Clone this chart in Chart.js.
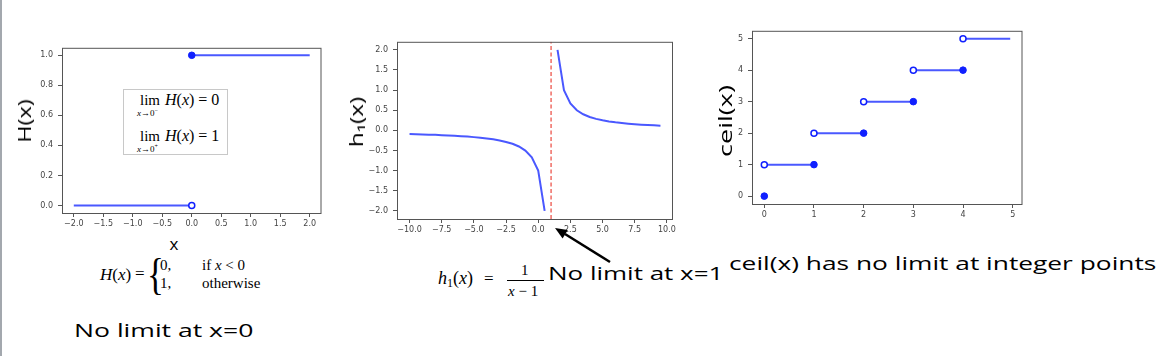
<!DOCTYPE html>
<html><head><meta charset="utf-8">
<script src="https://cdn.jsdelivr.net/npm/chart.js@4.4.0/dist/chart.umd.min.js"></script>
<style>
html,body{margin:0;padding:0;background:#fff;}
body{width:1172px;height:356px;position:relative;overflow:hidden;}
canvas{position:absolute;}
.hw{position:absolute;font-family:'Open Sans',sans-serif;color:#000;white-space:nowrap;line-height:1;z-index:3;}
.rot{transform-origin:50% 50%;}
.math{position:absolute;font-family:'Liberation Serif','Times New Roman',serif;color:#000;white-space:nowrap;line-height:1;z-index:3;}
.math i{font-style:italic;}
#edge{position:absolute;left:0;top:0;width:2px;height:356px;background:#a3a8ae;}
#legendBox{position:absolute;left:123px;top:89px;width:103px;height:64px;border:1px solid #c8c8c8;background:#fff;z-index:2;}
</style></head>
<body>
<div id="edge"></div>
<canvas id="c1" width="297" height="190" style="left:30px;top:38px"></canvas>
<canvas id="c2" width="311" height="202" style="left:367px;top:32px"></canvas>
<canvas id="c3" width="298" height="198" style="left:730px;top:21px"></canvas>

<div id="legendBox"></div>
<div class="math" style="left:140px;top:93px;font-size:15px">lim</div>
<div class="math" style="left:165px;top:92px;font-size:16px"><i>H</i>(<i>x</i>) = 0</div>
<div class="math" style="left:137px;top:107px;font-size:9px"><i>x</i>→0<sup style="font-size:6px">−</sup></div>
<div class="math" style="left:140px;top:129px;font-size:15px">lim</div>
<div class="math" style="left:165px;top:128px;font-size:16px"><i>H</i>(<i>x</i>) = 1</div>
<div class="math" style="left:137px;top:143px;font-size:9px"><i>x</i>→0<sup style="font-size:6px">+</sup></div>

<div class="math" style="left:100px;top:266px;font-size:17px"><i>H</i>(<i>x</i>)</div>
<div class="math" style="left:135px;top:265px;font-size:17px">=</div>
<div class="math" style="left:147px;top:253px;font-size:44px;transform:scaleX(0.8);transform-origin:0 0">{</div>
<div class="math" style="left:160px;top:258px;font-size:15px">0,</div>
<div class="math" style="left:202px;top:258px;font-size:15px">if <i>x</i>&nbsp;&lt;&nbsp;0</div>
<div class="math" style="left:160px;top:276px;font-size:15px">1,</div>
<div class="math" style="left:202px;top:276px;font-size:15px">otherwise</div>

<div class="math" style="left:438px;top:269px;font-size:18px"><i>h</i><span style="font-size:12px;position:relative;top:3px">1</span>(<i>x</i>)</div>
<div class="math" style="left:484px;top:270px;font-size:17px">=</div>
<div class="math" style="left:521px;top:263px;font-size:15px">1</div>
<div style="position:absolute;left:507px;top:280px;width:37px;height:1px;background:#000;z-index:3"></div>
<div class="math" style="left:508px;top:284px;font-size:15px"><i>x</i> − 1</div>

<div class="hw rot" data-w="43" style="left:24px;top:121px;font-size:18px" data-rot="1">H(x)</div>
<div class="hw rot" data-w="50" style="left:356px;top:122px;font-size:18px" data-rot="1">h₁(x)</div>
<div class="hw rot" data-w="72" style="left:725px;top:121px;font-size:18px" data-rot="1">ceil(x)</div>
<div class="hw" data-c="1" style="left:174px;top:243px;font-size:17px">x</div>
<div class="hw" data-w="179" style="left:74px;top:330px;font-size:19px">No limit at x=0</div>
<div class="hw" data-w="175" style="left:548px;top:273px;font-size:19px">No limit at x=1</div>
<div class="hw" data-w="428" style="left:729px;top:263px;font-size:19px">ceil(x) has no limit at integer points</div>

<svg width="1172" height="356" style="position:absolute;left:0;top:0;z-index:4;pointer-events:none">
<line x1="610" y1="262" x2="565" y2="234" stroke="#000" stroke-width="2.5"/>
<polygon points="555,228 567.8,230 562.6,238.6" fill="#000"/>
</svg>

<script>
// ---- Data: Heaviside step ----
const heavisideLeftX = [-2, 0];
const heavisideLeftY = [0, 0];
const heavisideRightX = [0, 2];
const heavisideRightY = [1, 1];
const heavisideOpenX = [0];
const heavisideOpenY = [0];
const heavisideFilledX = [0];
const heavisideFilledY = [1];
const heavisideXTicks = [-2, -1.5, -1, -0.5, 0, 0.5, 1, 1.5, 2];
const heavisideYTicks = [0, 0.2, 0.4, 0.6, 0.8, 1];

// ---- Data: h1(x) = 1/(x-1) ----
const h1LeftX = [-10, -9.5, -9, -8.5, -8, -7.5, -7, -6.5, -6, -5.5, -5, -4.5, -4, -3.5, -3, -2.5, -2, -1.5, -1, -0.5, 0, 0.5];
const h1LeftY = [-0.091, -0.095, -0.1, -0.105, -0.111, -0.118, -0.125, -0.133, -0.143, -0.154, -0.167, -0.182, -0.2, -0.222, -0.25, -0.286, -0.333, -0.4, -0.5, -0.667, -1, -2];
const h1RightX = [1.5, 2, 2.5, 3, 3.5, 4, 4.5, 5, 5.5, 6, 6.5, 7, 7.5, 8, 8.5, 9, 9.5];
const h1RightY = [2, 1, 0.667, 0.5, 0.4, 0.333, 0.286, 0.25, 0.222, 0.2, 0.182, 0.167, 0.154, 0.143, 0.133, 0.125, 0.118];
const asymptoteX = [1, 1];
const asymptoteY = [-2.2, 2.2];
const h1XTicks = [-10, -7.5, -5, -2.5, 0, 2.5, 5, 7.5, 10];
const h1YTicks = [-2, -1.5, -1, -0.5, 0, 0.5, 1, 1.5, 2];

// ---- Data: ceil(x) ----
const ceilSegStartX = [0, 1, 2, 3, 4];
const ceilSegEndX = [1, 2, 3, 4, 4.95];
const ceilSegLevel = [1, 2, 3, 4, 5];
const ceilOpenX = [0, 1, 2, 3, 4];
const ceilOpenY = [1, 2, 3, 4, 5];
const ceilFilledX = [0, 1, 2, 3, 4];
const ceilFilledY = [0, 1, 2, 3, 4];
const ceilXTicks = [0, 1, 2, 3, 4, 5];
const ceilYTicks = [0, 1, 2, 3, 4, 5];

const LINE = '#4a58ff';
const DOT = '#1020ff';

function pts(xs, ys) { return xs.map((x, i) => ({ x: x, y: ys[i] })); }
function fmt(dec) { return v => (v < 0 ? '\u2212' : '') + Math.abs(v).toFixed(dec); }

function axis(min, max, ticks, dec, isX, size, pad) {
  return {
    type: 'linear', position: isX ? 'bottom' : 'left', min: min, max: max, bounds: 'data',
    afterBuildTicks: a => { a.ticks = ticks.map(v => ({ value: v })); },
    afterFit: a => { if (isX) a.height = size; else a.width = size; },
    grid: { display: true, drawOnChartArea: false, drawTicks: true, tickLength: 4, color: '#555', lineWidth: 1 },
    border: { display: false },
    ticks: { autoSkip: false, maxRotation: 0, minRotation: 0, padding: pad, color: '#444',
      font: { family: 'DejaVu Sans', size: 8 }, callback: fmt(dec) }
  };
}

const frame = {
  id: 'frame',
  afterDatasetsDraw(c) {
    const a = c.chartArea, ctx = c.ctx;
    ctx.save(); ctx.strokeStyle = '#555'; ctx.lineWidth = 1;
    ctx.strokeRect(a.left + 0.5, a.top + 0.5, a.right - a.left - 1, a.bottom - a.top);
    ctx.restore();
  }
};

function lineDs(data, extra) {
  return Object.assign({ type: 'line', data: data, borderColor: LINE, borderWidth: 2, pointRadius: 0, fill: false, tension: 0, order: 2 }, extra || {});
}
function openDs(data) {
  return { type: 'scatter', data: data, pointRadius: 3, pointBorderWidth: 1.5, pointBackgroundColor: '#fff', pointBorderColor: DOT, order: 0 };
}
function filledDs(data) {
  return { type: 'scatter', data: data, pointRadius: 3.3, pointBorderWidth: 1, pointBackgroundColor: DOT, pointBorderColor: DOT, order: 0 };
}

function make(id, datasets, xs, ys) {
  return new Chart(document.getElementById(id), {
    data: { datasets: datasets },
    options: {
      responsive: false, animation: false, devicePixelRatio: 1, events: [],
      layout: { padding: { top: 5, right: 5, left: 0, bottom: 0 } },
      plugins: { legend: { display: false }, tooltip: { enabled: false } },
      scales: { x: xs, y: ys }
    },
    plugins: [frame]
  });
}

make('c1', [
  lineDs(pts(heavisideLeftX, heavisideLeftY)),
  lineDs(pts(heavisideRightX, heavisideRightY)),
  openDs(pts(heavisideOpenX, heavisideOpenY)),
  filledDs(pts(heavisideFilledX, heavisideFilledY))
], axis(-2.2, 2.2, heavisideXTicks, 1, true, 15, 2), axis(-0.05, 1.05, heavisideYTicks, 1, false, 32, 5));

make('c2', [
  lineDs(pts(h1LeftX, h1LeftY)),
  lineDs(pts(h1RightX, h1RightY)),
  lineDs(pts(asymptoteX, asymptoteY), { borderColor: 'rgba(235,70,60,0.8)', borderWidth: 1.5, borderDash: [4, 2.5], order: 3 })
], axis(-10.975, 10.475, h1XTicks, 1, true, 15, 2), axis(-2.2, 2.2, h1YTicks, 1, false, 30, 5));

const ceilSets = ceilSegStartX.map((x0, i) => lineDs(pts([x0, ceilSegEndX[i]], [ceilSegLevel[i], ceilSegLevel[i]])));
make('c3', ceilSets.concat([
  openDs(pts(ceilOpenX, ceilOpenY)),
  filledDs(pts(ceilFilledX, ceilFilledY))
]), axis(-0.2475, 5.1975, ceilXTicks, 0, true, 15, 2), axis(-0.25, 5.25, ceilYTicks, 0, false, 22, 5));

// fit handwriting-style labels to measured widths
document.querySelectorAll('.hw').forEach(el => {
  const w = el.offsetWidth;
  const t = el.dataset.w ? (+el.dataset.w) / w : 1;
  if (el.dataset.rot) {
    el.style.transform = 'translate(-50%,-50%) rotate(-90deg) scaleX(' + t + ')';
  } else if (el.dataset.c) {
    el.style.transform = 'translate(-50%,-50%)';
  } else {
    el.style.transformOrigin = '0 50%';
    el.style.transform = 'translateY(-50%) scaleX(' + t + ')';
  }
});
</script>
</body></html>
